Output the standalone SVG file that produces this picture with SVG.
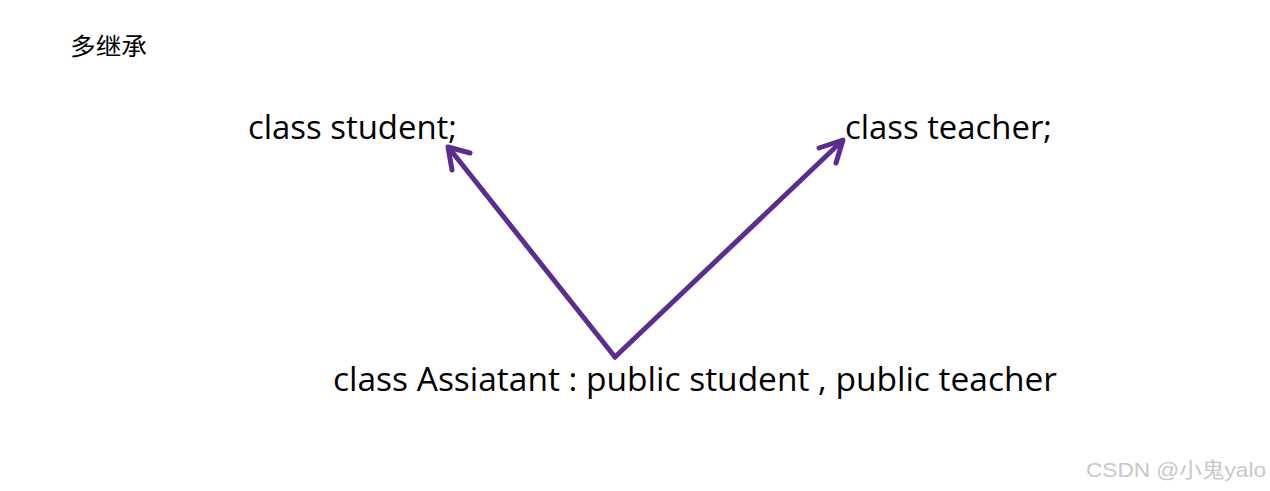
<svg xmlns="http://www.w3.org/2000/svg" width="1270" height="491" viewBox="0 0 1270 491">
<style>
.t{font-family:"Open Sans","Noto Sans",sans-serif;font-size:32.5px;fill:#000}
.a{fill:none;stroke:#5b2d90;stroke-width:5;stroke-linecap:round;stroke-linejoin:round}
</style>
<rect width="1270" height="491" fill="#fff"/>
<g id="title"><text x="70" y="55" font-family="Noto Sans CJK SC,sans-serif" font-size="24" fill="#000" textLength="77" lengthAdjust="spacingAndGlyphs">多继承</text></g>
<g id="student"><text class="t" x="248" y="139" textLength="209" lengthAdjust="spacingAndGlyphs">class student;</text></g>
<g id="teacher"><text class="t" x="845" y="139" textLength="207" lengthAdjust="spacingAndGlyphs">class teacher;</text></g>
<g id="assistant"><text class="t" x="333" y="391" textLength="724" lengthAdjust="spacingAndGlyphs">class Assiatant : public student , public teacher</text></g>
<g id="connectors">
<path class="a" d="M615,357 L449,148"/>
<path class="a" d="M452,170 L448,147 L470,153"/>
<path class="a" d="M615,357 L842,141"/>
<path class="a" d="M819,148 L843,140 L836,163"/>
</g>
<g id="watermark"><text x="1086" y="477" font-family="Liberation Sans,Noto Sans CJK SC,sans-serif" font-size="21" fill="#c8c8c8" textLength="180" lengthAdjust="spacingAndGlyphs">CSDN @小鬼yalo</text></g>
</svg>
